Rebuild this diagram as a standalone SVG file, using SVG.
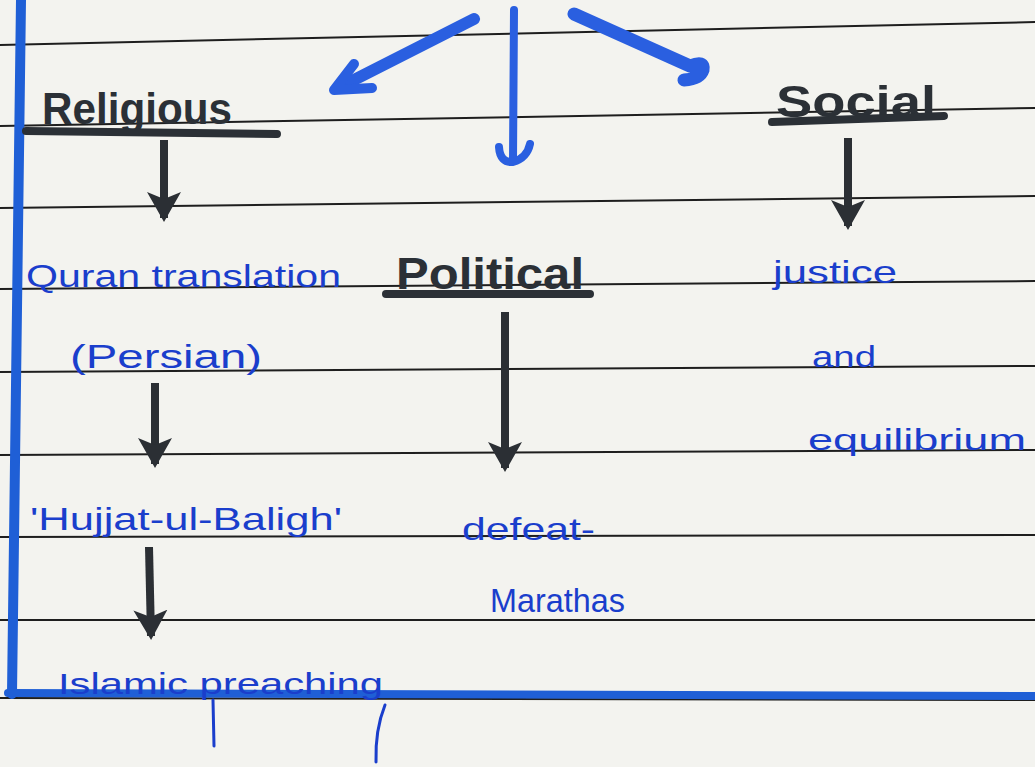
<svg xmlns="http://www.w3.org/2000/svg" width="1035" height="767" viewBox="0 0 1035 767">
<defs>
<style>
.paper{fill:#f3f3ef}
.rule{stroke:#1e1e1e;stroke-width:2;fill:none}
.margin{stroke:#1f5fd6;fill:none;stroke-linecap:round}
.head{font-family:"Liberation Sans",Arial,sans-serif;font-weight:bold;fill:#2b3036}
.under{stroke:#2b3036;stroke-width:8;stroke-linecap:round}
.ink{font-family:"Liberation Sans",Arial,sans-serif;fill:#1a3ecc}
.blk{stroke:#2b2f34;stroke-width:8;fill:none}
.blu{stroke:#2a5fe0;fill:none;stroke-linecap:round;stroke-linejoin:round}
.desc{stroke:#1a3ecc;stroke-width:3;fill:none;stroke-linecap:round}
</style>
<marker id="ah" viewBox="0 0 30 36" refX="26" refY="18" markerWidth="30" markerHeight="36" markerUnits="userSpaceOnUse" orient="auto">
<path d="M0,1 L30,18 L0,35 L7,18 z" fill="#2b2f34"/>
</marker>
</defs>
<rect class="paper" x="0" y="0" width="1035" height="767"/>
<g id="ruling">
<line class="rule" x1="0" y1="45" x2="1035" y2="22"/>
<line class="rule" x1="0" y1="126" x2="1035" y2="108"/>
<line class="rule" x1="0" y1="208" x2="1035" y2="196"/>
<line class="rule" x1="0" y1="289" x2="1035" y2="281"/>
<line class="rule" x1="0" y1="372" x2="1035" y2="366"/>
<line class="rule" x1="0" y1="455" x2="1035" y2="450"/>
<line class="rule" x1="0" y1="537" x2="1035" y2="535"/>
<line class="rule" x1="0" y1="620" x2="1035" y2="620"/>
<line class="rule" x1="0" y1="698" x2="1035" y2="700"/>
<path class="margin" d="M21,0 L12,694" stroke-width="10"/>
<path class="margin" d="M8,693 L1035,696" stroke-width="8"/>
</g>
<g id="connectors">
<path class="blu" d="M474,19 L340,87" stroke-width="12"/>
<path class="blu" d="M354,64 L334,90 L372,88" stroke-width="10"/>
<path class="blu" d="M514,10 L513,160" stroke-width="8"/>
<path class="blu" d="M499,147 Q500,163 513,162 Q527,158 530,144" stroke-width="8"/>
<path class="blu" d="M574,14 L690,66 Q705,60 703,70 Q700,79 684,80" stroke-width="13"/>
<path class="blk" d="M164,140 L164,218" marker-end="url(#ah)"/>
<path class="blk" d="M848,138 L848,226" stroke-width="6" marker-end="url(#ah)"/>
<path class="blk" d="M505,312 L505,468" stroke-width="6" marker-end="url(#ah)"/>
<path class="blk" d="M155,383 L155,464" stroke-width="11" marker-end="url(#ah)"/>
<path class="blk" d="M149,547 L151,636" stroke-width="9" marker-end="url(#ah)"/>
</g>
<g id="religious">
<text class="head" x="42" y="124" font-size="44" textLength="190" lengthAdjust="spacingAndGlyphs">Religious</text>
<line class="under" x1="26" y1="131" x2="277" y2="134"/>
</g>
<g id="social">
<text class="head" x="776" y="117" font-size="44" textLength="160" lengthAdjust="spacingAndGlyphs">Social</text>
<line class="under" x1="772" y1="122" x2="944" y2="116"/>
</g>
<g id="political">
<text class="head" x="396" y="289" font-size="44" textLength="188" lengthAdjust="spacingAndGlyphs">Political</text>
<line class="under" x1="386" y1="294" x2="590" y2="294"/>
</g>
<g id="quran-translation">
<text class="ink" x="26" y="287" font-size="32" textLength="315" lengthAdjust="spacingAndGlyphs">Quran translation</text>
</g>
<g id="persian">
<text class="ink" x="70" y="368" font-size="34" textLength="192" lengthAdjust="spacingAndGlyphs">(Persian)</text>
</g>
<g id="hujjat-ul-baligh">
<text class="ink" x="30" y="530" font-size="32" textLength="312" lengthAdjust="spacingAndGlyphs">'Hujjat-ul-Baligh'</text>
</g>
<g id="islamic-preaching">
<text class="ink" x="58" y="694" font-size="30" textLength="325" lengthAdjust="spacingAndGlyphs">Islamic preaching</text>
<path class="desc" d="M213,700 L214,746"/>
<path class="desc" d="M385,705 Q375,730 376,762"/>
</g>
<g id="defeat-marathas">
<text class="ink" x="462" y="540" font-size="32" textLength="133" lengthAdjust="spacingAndGlyphs">defeat-</text>
<text class="ink" x="490" y="612" font-size="34" textLength="135" lengthAdjust="spacingAndGlyphs">Marathas</text>
</g>
<g id="justice-equilibrium">
<text class="ink" x="773" y="283" font-size="32" textLength="124" lengthAdjust="spacingAndGlyphs">justice</text>
<text class="ink" x="812" y="367" font-size="30" textLength="64" lengthAdjust="spacingAndGlyphs">and</text>
<text class="ink" x="808" y="450" font-size="30" textLength="218" lengthAdjust="spacingAndGlyphs">equilibrium</text>
</g>
</svg>
